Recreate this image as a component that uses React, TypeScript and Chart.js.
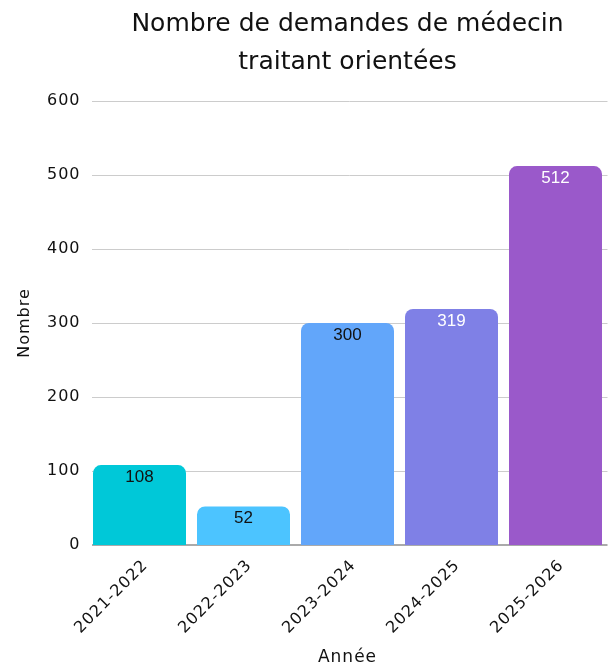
import React, { useEffect, useRef } from "react";
import { Chart, registerables } from "chart.js";

Chart.register(...registerables);

const categories = ["2021-2022", "2022-2023", "2023-2024", "2024-2025", "2025-2026"];
const values = [108, 52, 300, 319, 512];
const barColors = ["#00C8D8", "#4CC4FF", "#62A6FA", "#7F80E6", "#9A59CA"];
const labelColors = ["#111111", "#111111", "#111111", "#FFFFFF", "#FFFFFF"];
const titleLines = ["Nombre de demandes de médecin", "traitant orientées"];
const yTicks = [0, 100, 200, 300, 400, 500, 600];

const AXIS_FONT = "'DejaVu Sans', sans-serif";
const VALUE_FONT = "'Liberation Sans', Arial, sans-serif";

const spacingPlugin = {
  id: "spacing",
  beforeUpdate(chart: any) {
    chart.ctx.letterSpacing = "1px";
  },
  beforeDraw(chart: any) {
    chart.ctx.letterSpacing = "1px";
  },
};

const gridPlugin = {
  id: "customGrid",
  beforeDatasetsDraw(chart: any) {
    const { ctx, chartArea, scales } = chart;
    ctx.save();
    ctx.strokeStyle = "#CCCCCC";
    ctx.lineWidth = 1;
    yTicks.forEach((v) => {
      if (v === 0) return;
      const y = Math.round(scales.y.getPixelForValue(v)) + 0.5;
      ctx.beginPath();
      ctx.moveTo(chartArea.left + 4.5, y);
      ctx.lineTo(chartArea.right, y);
      ctx.stroke();
    });
    const y0 = scales.y.getPixelForValue(0);
    ctx.strokeStyle = "#AAAAAA";
    ctx.lineWidth = 2;
    ctx.beginPath();
    ctx.moveTo(chartArea.left + 4.5, y0);
    ctx.lineTo(chartArea.right, y0);
    ctx.stroke();
    ctx.restore();
  },
};

const titlePlugin = {
  id: "customTitle",
  afterDraw(chart: any) {
    const { ctx, chartArea } = chart;
    const cx = (chartArea.left + chartArea.right) / 2;
    ctx.save();
    ctx.letterSpacing = "0px";
    ctx.font = `25px ${AXIS_FONT}`;
    ctx.fillStyle = "#111111";
    ctx.textAlign = "center";
    ctx.textBaseline = "middle";
    titleLines.forEach((line, i) => {
      ctx.fillText(line, cx, 24 + i * 38);
    });
    ctx.restore();
  },
};

const valueLabels = {
  id: "valueLabels",
  afterDatasetsDraw(chart: any) {
    const ctx = chart.ctx;
    const meta = chart.getDatasetMeta(0);
    ctx.save();
    ctx.letterSpacing = "0px";
    ctx.font = `17px ${VALUE_FONT}`;
    ctx.textAlign = "center";
    ctx.textBaseline = "middle";
    meta.data.forEach((bar: any, i: number) => {
      ctx.fillStyle = labelColors[i];
      ctx.fillText(String(values[i]), bar.x, bar.y + 12);
    });
    ctx.restore();
  },
};

export default function App() {
  const ref = useRef<HTMLCanvasElement>(null);
  useEffect(() => {
    if (!ref.current) return;
    const chart = new Chart(ref.current, {
      type: "bar",
      data: {
        labels: categories,
        datasets: [
          {
            data: values,
            backgroundColor: barColors,
            borderRadius: 8,
            borderSkipped: "start",
            barPercentage: 93 / 104,
            categoryPercentage: 1,
          },
        ],
      },
      options: {
        responsive: false,
        animation: false,
        layout: { padding: { left: 0, right: 2.5, top: 101, bottom: 0 } },
        plugins: {
          legend: { display: false },
          tooltip: { enabled: false },
          title: { display: false },
        },
        scales: {
          x: {
            grid: { display: false },
            border: { display: false },
            afterFit: (axis: any) => {
              axis.height = 680 - 545;
            },
            ticks: {
              color: "#111111",
              font: { family: AXIS_FONT, size: 16 },
              maxRotation: 45,
              minRotation: 45,
              padding: 3,
              labelOffset: 6,
            },
            title: {
              display: true,
              text: "Année",
              color: "#111111",
              font: { family: AXIS_FONT, size: 17 },
              padding: { top: 0, bottom: 12 },
            },
          },
          y: {
            min: 0,
            max: 600,
            afterBuildTicks: (axis: any) => {
              axis.ticks = yTicks.map((v) => ({ value: v }));
            },
            afterFit: (axis: any) => {
              axis.width = 87.5;
            },
            grid: { display: false, drawTicks: false },
            border: { display: false },
            ticks: {
              color: "#111111",
              font: { family: AXIS_FONT, size: 16 },
              padding: 7,
            },
            title: {
              display: true,
              text: "Nombre",
              color: "#111111",
              font: { family: AXIS_FONT, size: 16 },
              padding: { top: 15, bottom: 10 },
            },
          },
        },
      },
      plugins: [spacingPlugin, gridPlugin, valueLabels, titlePlugin],
    });
    return () => chart.destroy();
  }, []);
  return (
    <div style={{ position: "absolute", left: 0, top: 0 }}>
      <canvas ref={ref} width={610} height={680} style={{ width: 610, height: 680, display: "block" }} />
    </div>
  );
}
